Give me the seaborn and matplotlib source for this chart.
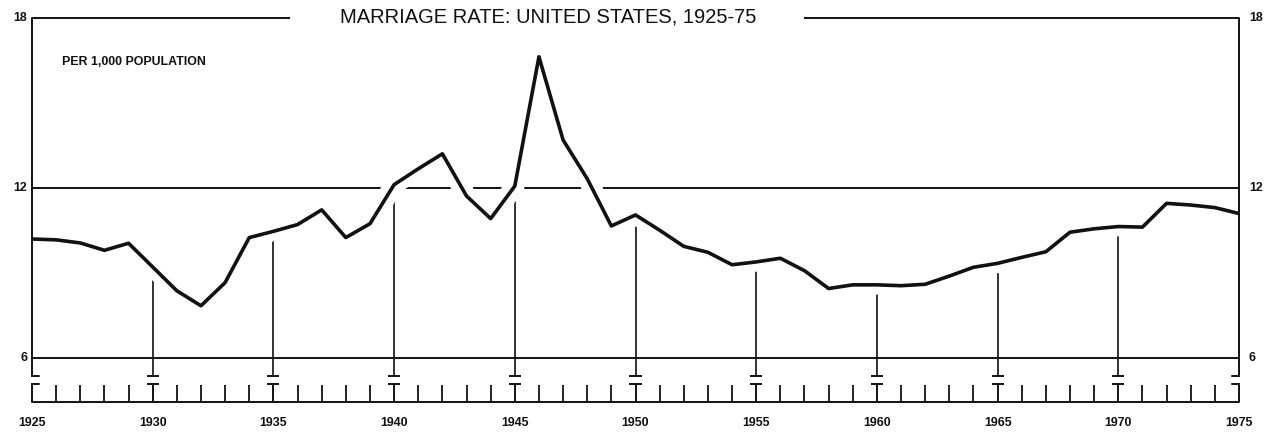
import matplotlib
matplotlib.use("Agg")
import matplotlib.pyplot as plt
import matplotlib.patheffects as pe
import seaborn as sns

# Marriage rate per 1,000 population
years = list(range(1925, 1976))
rates = [10.19, 10.16, 10.05, 9.79, 10.04, 9.20, 8.36, 7.83, 8.65, 10.24,
         10.46, 10.70, 11.22, 10.24, 10.73, 12.11, 12.67, 13.20, 11.71, 10.91,
         12.06, 16.63, 13.69, 12.32, 10.65, 11.04, 10.50, 9.93, 9.72, 9.28,
         9.38, 9.51, 9.07, 8.44, 8.57, 8.57, 8.54, 8.59, 8.88, 9.19,
         9.33, 9.54, 9.74, 10.43, 10.55, 10.63, 10.61, 11.45, 11.39, 11.30,
         11.09]
grid_levels = [6, 12, 18]
label_years = [1925, 1930, 1935, 1940, 1945, 1950, 1955, 1960, 1965, 1970, 1975]
title = "MARRIAGE RATE: UNITED STATES, 1925-75"
unit_note = "PER 1,000 POPULATION"

sns.set_theme(style="white")
plt.rcParams["font.family"] = ["Liberation Sans", "DejaVu Sans"]

INK = "#111111"
x0, x1 = years[0], years[-1]
base = 4.43       # bottom rule of the year scale
tick_top = 5.04   # top of the yearly ticks
cap_low = 5.06    # cap of the lower T marks
cap_high = 5.36   # foot of the drop lines / axis hooks
hook = 0.3

fig = plt.figure(figsize=(12.68, 4.32), dpi=100, facecolor="white")
ax = fig.add_axes([32 / 1268, 0.0544, 1207 / 1268, 0.92361])
ax.set_xlim(x0, x1)
ax.set_ylim(4.2, 18.3)
ax.axis("off")

# horizontal rules (18 is broken by the title)
ax.hlines([6, 12], x0, x1, color=INK, lw=1.4, zorder=1)
ax.hlines(18, x0, 1935.7, color=INK, lw=1.4, zorder=1)
ax.hlines(18, 1957.0, x1, color=INK, lw=1.4, zorder=1)

# drop lines every five years
majors = [y for y in years if y % 5 == 0 and x0 < y < x1]
for y in majors:
    r = rates[years.index(y)]
    ax.vlines(y, cap_high, r, color=INK, lw=1.2, zorder=1.5)
    ax.hlines(cap_high, y - 0.25, y + 0.25, color=INK, lw=1.4, zorder=1.5)
    ax.vlines(y, base, cap_low, color=INK, lw=1.4, zorder=1.5)
    ax.hlines(cap_low, y - 0.25, y + 0.25, color=INK, lw=1.4, zorder=1.5)

# yearly ticks on the bottom scale
minors = [y for y in years if y % 5 != 0]
ax.vlines(minors, base, tick_top, color=INK, lw=1.3, zorder=1.5)
ax.hlines(base, x0, x1, color=INK, lw=1.4, zorder=1.5, clip_on=False)
ax.plot([x0 + hook, x0, x0], [cap_low, cap_low, base], color=INK, lw=1.4,
        solid_joinstyle="miter", zorder=4, clip_on=False)
ax.plot([x1 - hook, x1, x1], [cap_low, cap_low, base], color=INK, lw=1.4,
        solid_joinstyle="miter", zorder=4, clip_on=False)

# the data line, with a white halo that breaks the rules it crosses
sns.lineplot(x=years, y=rates, ax=ax, color=INK, lw=2.6, zorder=3,
             solid_capstyle="butt",
             path_effects=[pe.Stroke(linewidth=14, foreground="white"), pe.Normal()])

# side axes
ax.plot([x0, x0, x0 + hook], [18, cap_high, cap_high], color=INK, lw=1.4,
        solid_joinstyle="miter", zorder=4, clip_on=False)
ax.plot([x1, x1, x1 - hook], [18, cap_high, cap_high], color=INK, lw=1.4,
        solid_joinstyle="miter", zorder=4, clip_on=False)

for lv in grid_levels:
    ax.text(x0 - 0.2, lv, str(lv), ha="right", va="center", fontsize=8.9,
            fontweight="bold", color=INK)
    ax.text(x1 + 0.41, lv, str(lv), ha="left", va="center", fontsize=8.9,
            fontweight="bold", color=INK)

for y in label_years:
    ax.text(y, 3.67, str(y), ha="center", va="center", fontsize=8.9,
            fontweight="bold", color=INK)

ax.text(1946.38, 18.05, title, ha="center", va="center", fontsize=14.5, color=INK)
ax.text(1926.24, 16.45, unit_note, ha="left", va="center", fontsize=8.9,
        fontweight="bold", color=INK)

fig.savefig("out.png", dpi=100, facecolor="white")
